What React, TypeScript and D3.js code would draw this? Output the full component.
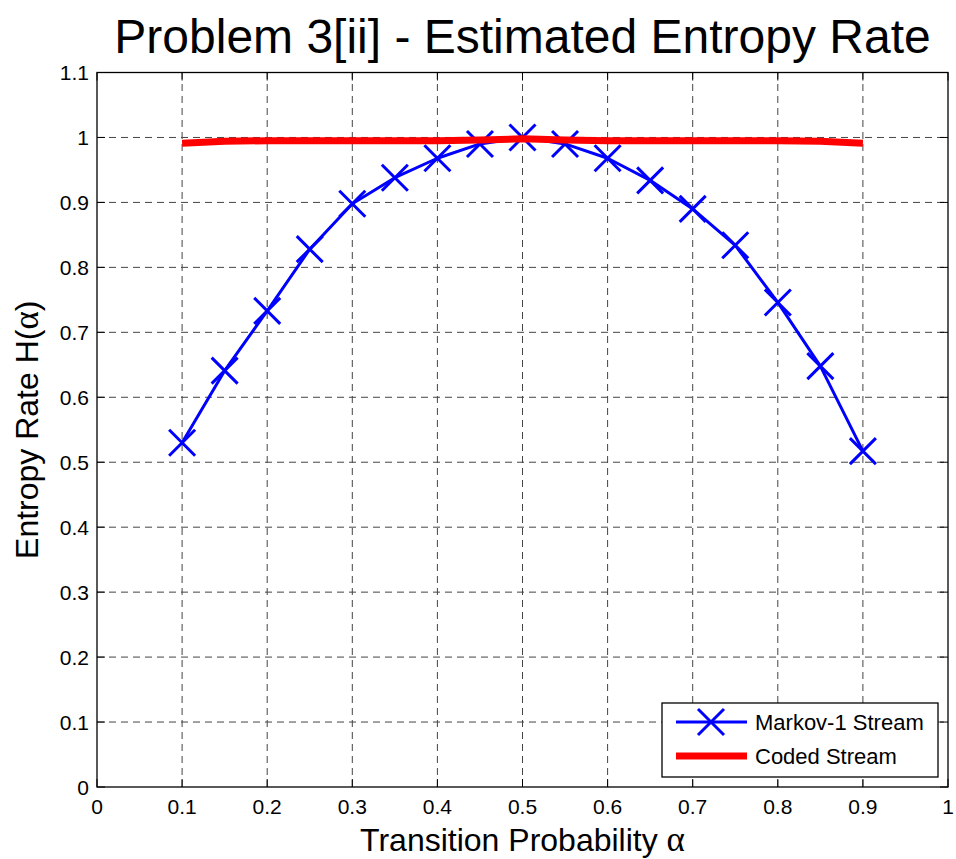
import React from 'react';
import * as d3 from 'd3';

const alphas = [0.1, 0.15, 0.2, 0.25, 0.3, 0.35, 0.4, 0.45, 0.5, 0.55, 0.6, 0.65, 0.7, 0.75, 0.8, 0.85, 0.9];
const markovRate = [0.53, 0.641, 0.733, 0.828, 0.898, 0.938, 0.968, 0.99, 1.0, 0.99, 0.968, 0.934, 0.89, 0.834, 0.746, 0.648, 0.517];
const codedRate = [0.991, 0.994, 0.995, 0.995, 0.995, 0.995, 0.995, 0.996, 0.998, 0.996, 0.995, 0.995, 0.995, 0.995, 0.995, 0.994, 0.991];
const xTicks = [0, 0.1, 0.2, 0.3, 0.4, 0.5, 0.6, 0.7, 0.8, 0.9, 1];
const yTicks = [0, 0.1, 0.2, 0.3, 0.4, 0.5, 0.6, 0.7, 0.8, 0.9, 1, 1.1];

const font = 'Liberation Sans, Arial, sans-serif';
const greek = 'Liberation Serif, Times New Roman, serif';

export default function App() {
  let width = 956;
  let height = 859;
  let margin = { top: 72.5, right: 8, bottom: 72, left: 97 };

  let x = d3.scaleLinear().domain([0, 1]).range([margin.left, width - margin.right]);
  let y = d3.scaleLinear().domain([0, 1.1]).range([height - margin.bottom, margin.top]);

  let line = d3
    .line<number>()
    .x((d, i) => x(alphas[i]))
    .y(d => y(d));

  let x0 = x(0), x1 = x(1), y0 = y(0), y1 = y(1.1);
  let tk = 8; // inside tick length
  let m = 13; // marker half-size

  return (
    <svg width={width} height={height} style={{ position: 'absolute', left: 0, top: 0 }}>
      <rect x={0} y={0} width={width} height={height} fill="#fff" />

      {/* grid */}
      <g stroke="#444" strokeWidth={1} strokeDasharray="7,5">
        {xTicks.slice(1, -1).map(t => (
          <line key={'gx' + t} x1={x(t)} x2={x(t)} y1={y0} y2={y1} />
        ))}
        {yTicks.slice(1, -1).map(t => (
          <line key={'gy' + t} x1={x0} x2={x1} y1={y(t)} y2={y(t)} />
        ))}
      </g>

      {/* ticks inside */}
      <g stroke="#000" strokeWidth={1}>
        {xTicks.map(t => (
          <g key={'tx' + t}>
            <line x1={x(t)} x2={x(t)} y1={y0} y2={y0 - tk} />
            <line x1={x(t)} x2={x(t)} y1={y1} y2={y1 + tk} />
          </g>
        ))}
        {yTicks.map(t => (
          <g key={'ty' + t}>
            <line x1={x0} x2={x0 + tk} y1={y(t)} y2={y(t)} />
            <line x1={x1} x2={x1 - tk} y1={y(t)} y2={y(t)} />
          </g>
        ))}
      </g>

      <rect x={x0} y={y1} width={x1 - x0} height={y0 - y1} fill="none" stroke="#000" strokeWidth={1.3} />

      {/* tick labels */}
      <g fontFamily={font} fontSize={21} fill="#000">
        {xTicks.map(t => (
          <text key={'lx' + t} x={x(t)} y={y0 + 27} textAnchor="middle">
            {d3.format('~g')(t)}
          </text>
        ))}
        {yTicks.map(t => (
          <text key={'ly' + t} x={x0 - 8} y={y(t) + 7.5} textAnchor="end">
            {d3.format('~g')(t)}
          </text>
        ))}
      </g>

      {/* series */}
      <path d={line(markovRate) || ''} fill="none" stroke="#0000ff" strokeWidth={3} strokeLinejoin="round" />
      <g stroke="#0000ff" strokeWidth={3}>
        {markovRate.map((v, i) => (
          <path key={'mk' + i} d={`M${x(alphas[i]) - m},${y(v) - m}L${x(alphas[i]) + m},${y(v) + m}M${x(alphas[i]) - m},${y(v) + m}L${x(alphas[i]) + m},${y(v) - m}`} />
        ))}
      </g>
      <path d={line(codedRate) || ''} fill="none" stroke="#ff0000" strokeWidth={7} strokeLinejoin="round" />

      {/* title & labels */}
      <text x={(x0 + x1) / 2} y={53} textAnchor="middle" fontFamily={font} fontSize={48}>
        Problem 3[ii] - Estimated Entropy Rate
      </text>
      <text x={(x0 + x1) / 2} y={851} textAnchor="middle" fontFamily={font} fontSize={32}>
        Transition Probability <tspan fontFamily={greek} fontSize={35}>α</tspan>
      </text>
      <text transform={`translate(38,${(y0 + y1) / 2}) rotate(-90)`} textAnchor="middle" fontFamily={font} fontSize={32}>
        Entropy Rate H(<tspan fontFamily={greek} fontSize={35}>α</tspan>)
      </text>

      {/* legend */}
      <g>
        <rect x={662} y={703} width={276} height={74} fill="#fff" stroke="#000" strokeWidth={1.3} />
        <line x1={676} x2={747} y1={722} y2={722} stroke="#0000ff" strokeWidth={3} />
        <path d={`M${711 - m},${722 - m}L${711 + m},${722 + m}M${711 - m},${722 + m}L${711 + m},${722 - m}`} stroke="#0000ff" strokeWidth={3} />
        <line x1={676} x2={747} y1={756} y2={756} stroke="#ff0000" strokeWidth={7} />
        <text x={755} y={730} fontFamily={font} fontSize={22}>Markov-1 Stream</text>
        <text x={755} y={764} fontFamily={font} fontSize={22}>Coded Stream</text>
      </g>
    </svg>
  );
}
